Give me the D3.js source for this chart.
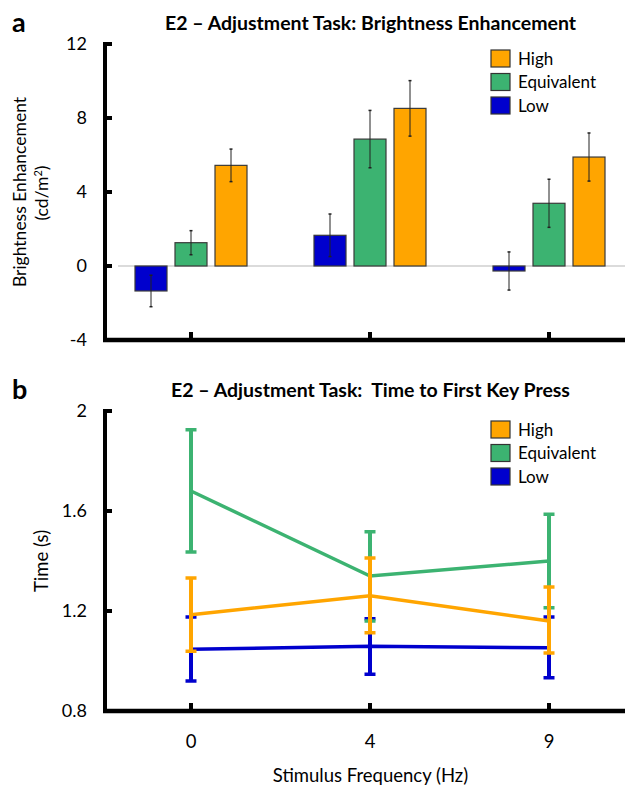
<!DOCTYPE html>
<html><head><meta charset="utf-8">
<script src="https://cdn.jsdelivr.net/npm/d3@7"></script>
<style>body{margin:0;background:#fff}svg{display:block}text{font-family:Lato,"Open Sans",sans-serif;fill:#000}</style>
</head><body>
<svg id="c" width="625" height="788"></svg>
<script>
// ---- data ----
const frequencies = ["0", "4", "9"];
const seriesNames = ["Low", "Equivalent", "High"];
const legendOrder = ["High", "Equivalent", "Low"];
// Panel a: brightness enhancement (cd/m2), mean and error half-width
const brightLow = [-1.35, 1.66, -0.27];
const brightLowErr = [0.85, 1.15, 1.03];
const brightEquiv = [1.26, 6.86, 3.39];
const brightEquivErr = [0.65, 1.55, 1.3];
const brightHigh = [5.44, 8.52, 5.89];
const brightHighErr = [0.88, 1.5, 1.3];
const brightTicks = [-4, 0, 4, 8, 12];
// Panel b: time to first key press (s)
const timeLow = [1.047, 1.059, 1.053];
const timeLowLo = [0.92, 0.947, 0.933];
const timeLowHi = [1.176, 1.169, 1.176];
const timeEquiv = [1.68, 1.34, 1.40];
const timeEquivLo = [1.436, 1.16, 1.213];
const timeEquivHi = [1.925, 1.517, 1.587];
const timeHigh = [1.185, 1.261, 1.16];
const timeHighLo = [1.039, 1.113, 1.032];
const timeHighHi = [1.332, 1.412, 1.296];
const timeTicks = [0.8, 1.2, 1.6, 2];

const colors = {Low: "#0000CD", Equivalent: "#3CB371", High: "#FFA500"};
const svg = d3.select("#c");

const axisX = 105, rightEdge = 625;
const x = d3.scalePoint().domain(frequencies).range([191, 549]);

function drawAxes(g, y, ticks, fmt, bottom, top) {
  g.append("line").attr("x1", axisX).attr("x2", axisX).attr("y1", top - 2).attr("y2", bottom + 2)
    .attr("stroke", "#000").attr("stroke-width", 4);
  g.append("line").attr("x1", axisX - 2).attr("x2", rightEdge).attr("y1", bottom).attr("y2", bottom)
    .attr("stroke", "#000").attr("stroke-width", 4.5);
  ticks.forEach(t => {
    g.append("line").attr("x1", axisX).attr("x2", axisX + 7).attr("y1", y(t)).attr("y2", y(t))
      .attr("stroke", "#000").attr("stroke-width", 4);
    g.append("text").attr("x", 87).attr("y", y(t)).attr("dy", "0.36em").attr("text-anchor", "end")
      .style("font-size", "18px").text(fmt(t));
  });
  frequencies.forEach(f => {
    g.append("line").attr("x1", x(f)).attr("x2", x(f)).attr("y1", bottom).attr("y2", bottom - 8)
      .attr("stroke", "#000").attr("stroke-width", 4);
  });
}

function legend(g, top) {
  legendOrder.forEach((n, i) => {
    g.append("rect").attr("x", 491).attr("y", top + i * 23.5).attr("width", 19).attr("height", 17)
      .attr("fill", colors[n]).attr("stroke", "#333").attr("stroke-width", 1.2);
    g.append("text").attr("x", 518).attr("y", top + i * 23.5 + 8.5).attr("dy", "0.36em")
      .style("font-size", "17px").text(n);
  });
}

// ---------- Panel a ----------
{
  const g = svg.append("g");
  const y = d3.scaleLinear().domain([-4, 12]).range([340, 44]);
  const inner = d3.scaleBand().domain(seriesNames).range([-56, 56]).paddingInner(0.2);
  const vals = {Low: brightLow, Equivalent: brightEquiv, High: brightHigh};
  const errs = {Low: brightLowErr, Equivalent: brightEquivErr, High: brightHighErr};
  g.append("line").attr("x1", 118).attr("x2", rightEdge).attr("y1", y(0)).attr("y2", y(0))
    .attr("stroke", "#cfcfcf").attr("stroke-width", 1.5);
  seriesNames.forEach(s => {
    frequencies.forEach((f, i) => {
      const v = vals[s][i], e = errs[s][i];
      const bx = x(f) + inner(s);
      g.append("rect").attr("x", bx).attr("width", inner.bandwidth())
        .attr("y", y(Math.max(0, v))).attr("height", Math.abs(y(v) - y(0)))
        .attr("fill", colors[s]).attr("stroke", "#3a3a3a").attr("stroke-width", 1.2);
      const cx = bx + inner.bandwidth() / 2;
      g.append("line").attr("x1", cx).attr("x2", cx).attr("y1", y(v - e)).attr("y2", y(v + e))
        .attr("stroke", "#222").attr("stroke-width", 1);
      [v - e, v + e].forEach(t => g.append("line").attr("x1", cx - 1.5).attr("x2", cx + 1.5)
        .attr("y1", y(t)).attr("y2", y(t)).attr("stroke", "#222").attr("stroke-width", 1.5));
    });
  });
  drawAxes(g, y, brightTicks, t => String(t), 340, 44);
  legend(g, 50);
  g.append("text").attr("x", 370.5).attr("y", 30).attr("text-anchor", "middle")
    .style("font-size", "19.5px").style("font-weight", "bold")
    .text("E2 \u2013 Adjustment Task: Brightness Enhancement");
  g.append("text").attr("x", 12).attr("y", 32).style("font-size", "27px").style("font-weight", "bold").text("a");
  g.append("text").attr("transform", "translate(26,192) rotate(-90)").attr("text-anchor", "middle")
    .style("font-size", "17.5px").text("Brightness Enhancement");
  g.append("text").attr("transform", "translate(48,193) rotate(-90)").attr("text-anchor", "middle")
    .style("font-size", "17.5px").html("(cd/m<tspan baseline-shift='super' font-size='11px'>2</tspan>)");
}

// ---------- Panel b ----------
{
  const g = svg.append("g");
  const y = d3.scaleLinear().domain([0.8, 2]).range([711, 411]);
  const means = {Low: timeLow, Equivalent: timeEquiv, High: timeHigh};
  const lo = {Low: timeLowLo, Equivalent: timeEquivLo, High: timeHighLo};
  const hi = {Low: timeLowHi, Equivalent: timeEquivHi, High: timeHighHi};
  const line = d3.line().x((d, i) => x(frequencies[i])).y(d => y(d));
  ["Low", "Equivalent", "High"].forEach(s => {
    g.append("path").attr("d", line(means[s])).attr("fill", "none")
      .attr("stroke", colors[s]).attr("stroke-width", 3.5);
    frequencies.forEach((f, i) => {
      const cx = x(f);
      g.append("line").attr("x1", cx).attr("x2", cx).attr("y1", y(lo[s][i])).attr("y2", y(hi[s][i]))
        .attr("stroke", colors[s]).attr("stroke-width", 4);
      [lo[s][i], hi[s][i]].forEach(t => g.append("line").attr("x1", cx - 5.5).attr("x2", cx + 5.5)
        .attr("y1", y(t)).attr("y2", y(t)).attr("stroke", colors[s]).attr("stroke-width", 3.5));
    });
  });
  drawAxes(g, y, timeTicks, d3.format(".1~f"), 711, 411);
  legend(g, 421);
  frequencies.forEach(f => g.append("text").attr("x", x(f)).attr("y", 748).attr("text-anchor", "middle")
    .style("font-size", "18.5px").text(f));
  g.append("text").attr("x", 370.5).attr("y", 782).attr("text-anchor", "middle")
    .style("font-size", "18.5px").text("Stimulus Frequency (Hz)");
  g.append("text").attr("x", 370.5).attr("y", 397).attr("text-anchor", "middle")
    .style("font-size", "19.5px").style("font-weight", "bold").style("white-space", "pre")
    .text("E2 \u2013 Adjustment Task:  Time to First Key Press");
  g.append("text").attr("x", 12).attr("y", 399).style("font-size", "27px").style("font-weight", "bold").text("b");
  g.append("text").attr("transform", "translate(48,561) rotate(-90)").attr("text-anchor", "middle")
    .style("font-size", "18.5px").text("Time (s)");
}
</script>
</body></html>
